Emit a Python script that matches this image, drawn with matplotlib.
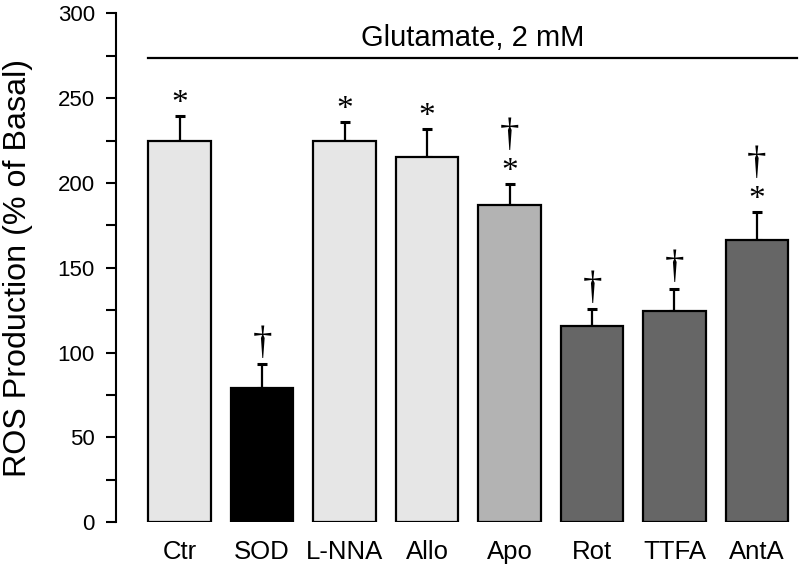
import numpy as np
from matplotlib import pyplot as plt

plt.rcParams['font.family'] = ['Liberation Sans', 'DejaVu Sans']

groups = ['Ctr', 'SOD', 'L-NNA', 'Allo', 'Apo', 'Rot', 'TTFA', 'AntA']
means = [225, 79, 225, 215.5, 187, 115.5, 124.5, 166.5]
errs = [14.5, 14, 11, 16.5, 12.5, 10, 13, 16.5]
marks = ['*', '\u2020', '*', '*', '*\u2020', '\u2020', '\u2020', '*\u2020']
colors = ['#e6e6e6', '#000000', '#e6e6e6', '#e6e6e6', '#b3b3b3',
          '#666666', '#666666', '#666666']
treat_label = 'Glutamate, 2 mM'
treat_level = 273.5

fig = plt.figure(figsize=(7.99, 5.68), dpi=100)
ax = fig.add_axes([0.1452, 0.0805, 0.8523, 0.8961])

x = np.arange(len(groups))
ax.bar(x, means, width=0.76, color=colors, edgecolor='black', linewidth=1.6, zorder=2)
ax.errorbar(x, means, yerr=[np.zeros(len(errs)), errs], fmt='none', ecolor='black',
            elinewidth=1.6, capsize=3.3, capthick=2.2, zorder=1)

# significance symbols stacked above the error bars
for xi, m, e, s in zip(x, means, errs, marks):
    y = m + e
    for ch in s:
        if ch == '*':
            ax.text(xi, y - 2, ch, ha='center', va='bottom', fontsize=24,
                    family='Liberation Serif')
            y += 16
        else:
            ax.text(xi, y + 1.5, ch, ha='center', va='bottom', fontsize=28,
                    family='Liberation Serif')
            y += 18

ax.plot([-0.382, 7.485], [treat_level, treat_level], color='black', lw=1.6, clip_on=False)
ax.text(3.55, 285.3, treat_label, ha='center', va='center', fontsize=21)

ax.set_xlim(-0.77, 7.485)
ax.set_ylim(0, 300)
ax.set_yticks(np.arange(0, 301, 50))
ax.set_yticks(np.arange(25, 300, 50), minor=True)
ax.set_xticks(x)
ax.set_xticklabels(groups, fontsize=18.5)
ax.tick_params(axis='x', length=0, pad=13)
ax.tick_params(axis='y', which='both', length=7.2, width=1.5, pad=8, labelsize=16)
ax.set_ylabel('ROS Production (% of Basal)', fontsize=23.2, labelpad=18)

for side in ['top', 'right', 'bottom']:
    ax.spines[side].set_visible(False)
ax.spines['left'].set_linewidth(1.5)

fig.savefig('out.png', dpi=100)
